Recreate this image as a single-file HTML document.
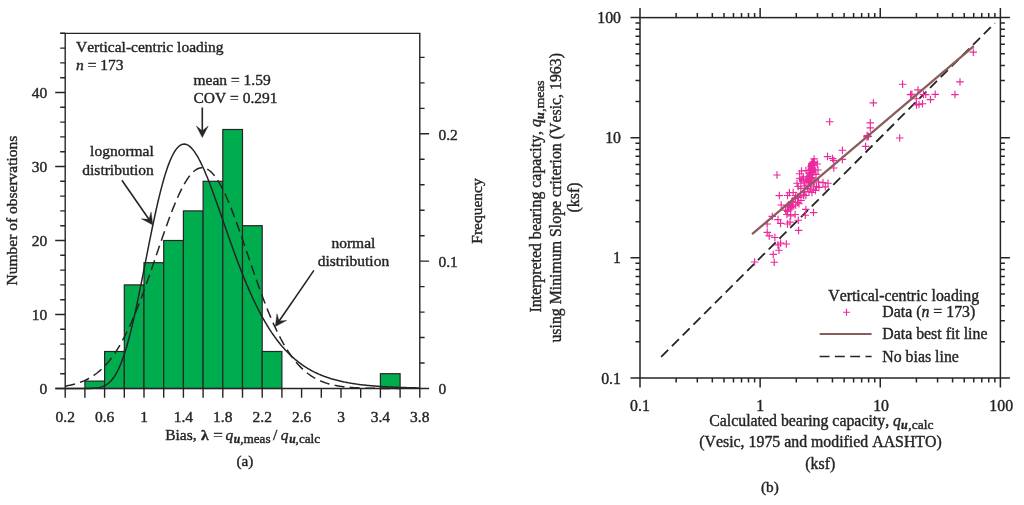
<!DOCTYPE html>
<html lang="en"><head><meta charset="utf-8"><title>Bias histogram and bearing capacity scatter</title>
<style>
html,body{margin:0;padding:0;background:#fff;}
body{width:1024px;height:505px;overflow:hidden;}
svg{display:block;font-family:"Liberation Serif","DejaVu Serif",serif;fill:#282425;}
svg text{fill:#282425;stroke:#282425;stroke-width:0.4px;font-kerning:none;font-variant-ligatures:none;}
</style></head><body>
<svg width="1024" height="505" viewBox="0 0 1024 505">
<rect x="0" y="0" width="1024" height="505" fill="#fff" stroke="none"/>
<g>
<g fill="#00ad4e" stroke="#282425" stroke-width="1.2">
<rect x="84.90" y="381.10" width="19.70" height="7.40"/>
<rect x="104.60" y="351.50" width="19.70" height="37.00"/>
<rect x="124.30" y="284.90" width="19.70" height="103.60"/>
<rect x="144.00" y="262.70" width="19.70" height="125.80"/>
<rect x="163.70" y="240.50" width="19.70" height="148.00"/>
<rect x="183.40" y="210.90" width="19.70" height="177.60"/>
<rect x="203.10" y="181.30" width="19.70" height="207.20"/>
<rect x="222.80" y="129.50" width="19.70" height="259.00"/>
<rect x="242.50" y="225.70" width="19.70" height="162.80"/>
<rect x="262.20" y="351.50" width="19.70" height="37.00"/>
<rect x="380.40" y="373.70" width="19.70" height="14.80"/>
</g>
<path d="M65.20,388.50 L66.19,388.50 L67.17,388.50 L68.16,388.50 L69.14,388.50 L70.12,388.50 L71.11,388.50 L72.10,388.50 L73.08,388.50 L74.07,388.50 L75.05,388.50 L76.04,388.50 L77.02,388.50 L78.01,388.50 L78.99,388.50 L79.98,388.50 L80.96,388.50 L81.95,388.50 L82.93,388.49 L83.92,388.49 L84.90,388.49 L85.89,388.48 L86.87,388.47 L87.86,388.46 L88.84,388.44 L89.83,388.42 L90.81,388.39 L91.80,388.35 L92.78,388.30 L93.77,388.24 L94.75,388.16 L95.74,388.07 L96.72,387.95 L97.71,387.81 L98.69,387.64 L99.68,387.43 L100.66,387.18 L101.65,386.90 L102.63,386.56 L103.62,386.16 L104.60,385.71 L105.59,385.18 L106.57,384.59 L107.56,383.91 L108.54,383.14 L109.53,382.28 L110.51,381.32 L111.50,380.25 L112.48,379.07 L113.47,377.77 L114.45,376.34 L115.44,374.78 L116.42,373.09 L117.41,371.25 L118.39,369.27 L119.38,367.14 L120.36,364.86 L121.35,362.43 L122.33,359.83 L123.32,357.09 L124.30,354.18 L125.29,351.13 L126.27,347.91 L127.26,344.55 L128.24,341.03 L129.23,337.37 L130.21,333.57 L131.20,329.63 L132.18,325.56 L133.17,321.37 L134.15,317.06 L135.14,312.64 L136.12,308.12 L137.11,303.50 L138.09,298.80 L139.08,294.03 L140.06,289.19 L141.05,284.29 L142.03,279.35 L143.02,274.37 L144.00,269.37 L144.99,264.36 L145.97,259.34 L146.96,254.33 L147.94,249.34 L148.93,244.37 L149.91,239.44 L150.90,234.56 L151.88,229.74 L152.87,224.99 L153.85,220.31 L154.84,215.72 L155.82,211.22 L156.81,206.82 L157.79,202.53 L158.78,198.36 L159.76,194.32 L160.75,190.40 L161.73,186.62 L162.72,182.98 L163.70,179.49 L164.69,176.15 L165.67,172.96 L166.66,169.94 L167.64,167.07 L168.63,164.37 L169.61,161.84 L170.60,159.47 L171.58,157.28 L172.57,155.25 L173.55,153.40 L174.54,151.72 L175.52,150.21 L176.51,148.87 L177.49,147.69 L178.48,146.69 L179.46,145.86 L180.45,145.19 L181.43,144.68 L182.42,144.33 L183.40,144.13 L184.39,144.10 L185.37,144.21 L186.36,144.47 L187.34,144.88 L188.33,145.42 L189.31,146.10 L190.30,146.91 L191.28,147.86 L192.27,148.92 L193.25,150.11 L194.24,151.41 L195.22,152.82 L196.21,154.34 L197.19,155.97 L198.18,157.68 L199.16,159.50 L200.15,161.40 L201.13,163.39 L202.12,165.45 L203.10,167.59 L204.09,169.80 L205.07,172.08 L206.06,174.43 L207.04,176.83 L208.03,179.28 L209.01,181.78 L210.00,184.33 L210.98,186.93 L211.97,189.56 L212.95,192.22 L213.94,194.92 L214.92,197.64 L215.91,200.39 L216.89,203.16 L217.88,205.95 L218.86,208.75 L219.85,211.57 L220.83,214.39 L221.82,217.22 L222.80,220.05 L223.79,222.88 L224.77,225.71 L225.76,228.54 L226.74,231.35 L227.73,234.17 L228.71,236.97 L229.70,239.75 L230.68,242.53 L231.67,245.28 L232.65,248.02 L233.64,250.74 L234.62,253.44 L235.61,256.11 L236.59,258.77 L237.58,261.39 L238.56,263.99 L239.55,266.57 L240.53,269.11 L241.52,271.63 L242.50,274.12 L243.49,276.58 L244.47,279.00 L245.46,281.39 L246.44,283.75 L247.43,286.08 L248.41,288.38 L249.39,290.64 L250.38,292.86 L251.36,295.06 L252.35,297.21 L253.33,299.34 L254.32,301.42 L255.30,303.47 L256.29,305.49 L257.27,307.47 L258.26,309.42 L259.24,311.33 L260.23,313.21 L261.21,315.05 L262.20,316.86 L263.18,318.63 L264.17,320.37 L265.15,322.07 L266.14,323.74 L267.12,325.38 L268.11,326.98 L269.09,328.55 L270.08,330.08 L271.06,331.59 L272.05,333.06 L273.03,334.50 L274.02,335.91 L275.00,337.29 L275.99,338.64 L276.97,339.95 L277.96,341.24 L278.94,342.50 L279.93,343.73 L280.91,344.93 L281.90,346.11 L282.88,347.25 L283.87,348.37 L284.85,349.46 L285.84,350.53 L286.82,351.57 L287.81,352.59 L288.79,353.58 L289.78,354.54 L290.76,355.48 L291.75,356.40 L292.73,357.30 L293.72,358.17 L294.70,359.02 L295.69,359.85 L296.67,360.66 L297.66,361.45 L298.64,362.22 L299.63,362.97 L300.61,363.69 L301.60,364.40 L302.58,365.09 L303.57,365.77 L304.55,366.42 L305.54,367.06 L306.52,367.68 L307.51,368.28 L308.49,368.87 L309.48,369.44 L310.46,369.99 L311.45,370.54 L312.43,371.06 L313.42,371.57 L314.40,372.07 L315.39,372.55 L316.37,373.02 L317.36,373.48 L318.34,373.93 L319.33,374.36 L320.31,374.78 L321.30,375.19 L322.28,375.58 L323.27,375.97 L324.25,376.34 L325.24,376.71 L326.22,377.06 L327.21,377.40 L328.19,377.74 L329.18,378.06 L330.16,378.38 L331.15,378.68 L332.13,378.98 L333.12,379.27 L334.10,379.55 L335.09,379.82 L336.07,380.08 L337.06,380.34 L338.04,380.59 L339.03,380.83 L340.01,381.06 L341.00,381.29 L341.98,381.51 L342.97,381.72 L343.95,381.93 L344.94,382.13 L345.92,382.33 L346.91,382.52 L347.89,382.70 L348.88,382.88 L349.86,383.05 L350.85,383.22 L351.83,383.38 L352.82,383.54 L353.80,383.69 L354.79,383.84 L355.77,383.99 L356.76,384.13 L357.74,384.26 L358.73,384.39 L359.71,384.52 L360.70,384.65 L361.68,384.77 L362.67,384.88 L363.65,384.99 L364.64,385.10 L365.62,385.21 L366.61,385.31 L367.59,385.41 L368.58,385.51 L369.56,385.60 L370.55,385.69 L371.53,385.78 L372.52,385.86 L373.50,385.95 L374.49,386.03 L375.47,386.10 L376.46,386.18 L377.44,386.25 L378.43,386.32 L379.41,386.39 L380.40,386.46 L381.38,386.52 L382.37,386.58 L383.35,386.64 L384.34,386.70 L385.32,386.76 L386.31,386.81 L387.29,386.87 L388.28,386.92 L389.26,386.97 L390.25,387.02 L391.23,387.06 L392.22,387.11 L393.20,387.15 L394.19,387.19 L395.17,387.24 L396.16,387.28 L397.14,387.31 L398.13,387.35 L399.11,387.39 L400.10,387.42 L401.08,387.46 L402.07,387.49 L403.05,387.52 L404.04,387.55 L405.02,387.58 L406.01,387.61 L406.99,387.64 L407.98,387.67 L408.96,387.69 L409.95,387.72 L410.93,387.74 L411.92,387.77 L412.90,387.79 L413.89,387.81 L414.87,387.84 L415.86,387.86 L416.84,387.88 L417.83,387.90 L418.81,387.92 L419.80,387.93" fill="none" stroke="#282425" stroke-width="1.5"/>
<path d="M65.20,386.08 L66.19,385.92 L67.17,385.74 L68.16,385.56 L69.14,385.37 L70.12,385.17 L71.11,384.95 L72.10,384.73 L73.08,384.49 L74.07,384.24 L75.05,383.97 L76.04,383.69 L77.02,383.40 L78.01,383.09 L78.99,382.76 L79.98,382.41 L80.96,382.05 L81.95,381.67 L82.93,381.27 L83.92,380.86 L84.90,380.42 L85.89,379.96 L86.87,379.48 L87.86,378.97 L88.84,378.44 L89.83,377.89 L90.81,377.31 L91.80,376.71 L92.78,376.08 L93.77,375.42 L94.75,374.73 L95.74,374.02 L96.72,373.27 L97.71,372.50 L98.69,371.69 L99.68,370.85 L100.66,369.97 L101.65,369.06 L102.63,368.12 L103.62,367.14 L104.60,366.12 L105.59,365.07 L106.57,363.98 L107.56,362.85 L108.54,361.68 L109.53,360.47 L110.51,359.22 L111.50,357.92 L112.48,356.59 L113.47,355.21 L114.45,353.79 L115.44,352.32 L116.42,350.81 L117.41,349.26 L118.39,347.66 L119.38,346.02 L120.36,344.33 L121.35,342.59 L122.33,340.81 L123.32,338.98 L124.30,337.11 L125.29,335.19 L126.27,333.22 L127.26,331.21 L128.24,329.16 L129.23,327.05 L130.21,324.91 L131.20,322.72 L132.18,320.48 L133.17,318.21 L134.15,315.89 L135.14,313.53 L136.12,311.13 L137.11,308.68 L138.09,306.20 L139.08,303.69 L140.06,301.13 L141.05,298.55 L142.03,295.92 L143.02,293.27 L144.00,290.59 L144.99,287.87 L145.97,285.13 L146.96,282.37 L147.94,279.58 L148.93,276.77 L149.91,273.95 L150.90,271.10 L151.88,268.24 L152.87,265.37 L153.85,262.49 L154.84,259.61 L155.82,256.72 L156.81,253.82 L157.79,250.93 L158.78,248.04 L159.76,245.16 L160.75,242.28 L161.73,239.42 L162.72,236.57 L163.70,233.74 L164.69,230.93 L165.67,228.15 L166.66,225.39 L167.64,222.67 L168.63,219.97 L169.61,217.31 L170.60,214.70 L171.58,212.12 L172.57,209.59 L173.55,207.11 L174.54,204.67 L175.52,202.30 L176.51,199.98 L177.49,197.72 L178.48,195.52 L179.46,193.39 L180.45,191.33 L181.43,189.34 L182.42,187.43 L183.40,185.59 L184.39,183.83 L185.37,182.15 L186.36,180.55 L187.34,179.04 L188.33,177.61 L189.31,176.28 L190.30,175.04 L191.28,173.89 L192.27,172.83 L193.25,171.87 L194.24,171.01 L195.22,170.25 L196.21,169.58 L197.19,169.02 L198.18,168.56 L199.16,168.20 L200.15,167.94 L201.13,167.79 L202.12,167.74 L203.10,167.79 L204.09,167.94 L205.07,168.20 L206.06,168.56 L207.04,169.02 L208.03,169.58 L209.01,170.25 L210.00,171.01 L210.98,171.87 L211.97,172.83 L212.95,173.89 L213.94,175.04 L214.92,176.28 L215.91,177.61 L216.89,179.04 L217.88,180.55 L218.86,182.15 L219.85,183.83 L220.83,185.59 L221.82,187.43 L222.80,189.34 L223.79,191.33 L224.77,193.39 L225.76,195.52 L226.74,197.72 L227.73,199.98 L228.71,202.30 L229.70,204.67 L230.68,207.11 L231.67,209.59 L232.65,212.12 L233.64,214.70 L234.62,217.31 L235.61,219.97 L236.59,222.67 L237.58,225.39 L238.56,228.15 L239.55,230.93 L240.53,233.74 L241.52,236.57 L242.50,239.42 L243.49,242.28 L244.47,245.16 L245.46,248.04 L246.44,250.93 L247.43,253.82 L248.41,256.72 L249.39,259.61 L250.38,262.49 L251.36,265.37 L252.35,268.24 L253.33,271.10 L254.32,273.95 L255.30,276.77 L256.29,279.58 L257.27,282.37 L258.26,285.13 L259.24,287.87 L260.23,290.59 L261.21,293.27 L262.20,295.92 L263.18,298.55 L264.17,301.13 L265.15,303.69 L266.14,306.20 L267.12,308.68 L268.11,311.13 L269.09,313.53 L270.08,315.89 L271.06,318.21 L272.05,320.48 L273.03,322.72 L274.02,324.91 L275.00,327.05 L275.99,329.16 L276.97,331.21 L277.96,333.22 L278.94,335.19 L279.93,337.11 L280.91,338.98 L281.90,340.81 L282.88,342.59 L283.87,344.33 L284.85,346.02 L285.84,347.66 L286.82,349.26 L287.81,350.81 L288.79,352.32 L289.78,353.79 L290.76,355.21 L291.75,356.59 L292.73,357.92 L293.72,359.22 L294.70,360.47 L295.69,361.68 L296.67,362.85 L297.66,363.98 L298.64,365.07 L299.63,366.12 L300.61,367.14 L301.60,368.12 L302.58,369.06 L303.57,369.97 L304.55,370.85 L305.54,371.69 L306.52,372.50 L307.51,373.27 L308.49,374.02 L309.48,374.73 L310.46,375.42 L311.45,376.08 L312.43,376.71 L313.42,377.31 L314.40,377.89 L315.39,378.44 L316.37,378.97 L317.36,379.48 L318.34,379.96 L319.33,380.42 L320.31,380.86 L321.30,381.27 L322.28,381.67 L323.27,382.05 L324.25,382.41 L325.24,382.76 L326.22,383.09 L327.21,383.40 L328.19,383.69 L329.18,383.97 L330.16,384.24 L331.15,384.49 L332.13,384.73 L333.12,384.95 L334.10,385.17 L335.09,385.37 L336.07,385.56 L337.06,385.74 L338.04,385.92 L339.03,386.08 L340.01,386.23 L341.00,386.37 L341.98,386.51 L342.97,386.64 L343.95,386.76 L344.94,386.87 L345.92,386.98 L346.91,387.08 L347.89,387.18 L348.88,387.26 L349.86,387.35 L350.85,387.43 L351.83,387.50 L352.82,387.57 L353.80,387.63 L354.79,387.69 L355.77,387.75 L356.76,387.80 L357.74,387.85 L358.73,387.90 L359.71,387.94 L360.70,387.98 L361.68,388.02 L362.67,388.05 L363.65,388.09 L364.64,388.12 L365.62,388.15 L366.61,388.17 L367.59,388.20 L368.58,388.22 L369.56,388.24 L370.55,388.26 L371.53,388.28 L372.52,388.30 L373.50,388.31 L374.49,388.33 L375.47,388.34 L376.46,388.35 L377.44,388.37 L378.43,388.38 L379.41,388.39 L380.40,388.40 L381.38,388.40 L382.37,388.41 L383.35,388.42 L384.34,388.43 L385.32,388.43 L386.31,388.44 L387.29,388.44 L388.28,388.45 L389.26,388.45 L390.25,388.46 L391.23,388.46 L392.22,388.46 L393.20,388.47 L394.19,388.47 L395.17,388.47 L396.16,388.47 L397.14,388.48 L398.13,388.48 L399.11,388.48 L400.10,388.48" fill="none" stroke="#282425" stroke-width="1.5" stroke-dasharray="10 5.3"/>
<g stroke="#282425" stroke-width="1.4" fill="none">
<path d="M60.50 33.40 H419.80 V388.50 H55.50"/>
<path d="M65.20 33.40 V388.50"/>
<path d="M65.20 388.50V397.70M84.90 388.50V397.70M104.60 388.50V397.70M124.30 388.50V397.70M144.00 388.50V397.70M163.70 388.50V397.70M183.40 388.50V397.70M203.10 388.50V397.70M222.80 388.50V397.70M242.50 388.50V397.70M262.20 388.50V397.70M281.90 388.50V397.70M301.60 388.50V397.70M321.30 388.50V397.70M341.00 388.50V397.70M360.70 388.50V397.70M380.40 388.50V397.70M400.10 388.50V397.70M419.80 388.50V397.70"/>
<path d="M65.20 388.50H55.20M65.20 373.70H60.20M65.20 358.90H60.20M65.20 344.10H60.20M65.20 329.30H60.20M65.20 314.50H55.20M65.20 299.70H60.20M65.20 284.90H60.20M65.20 270.10H60.20M65.20 255.30H60.20M65.20 240.50H55.20M65.20 225.70H60.20M65.20 210.90H60.20M65.20 196.10H60.20M65.20 181.30H60.20M65.20 166.50H55.20M65.20 151.70H60.20M65.20 136.90H60.20M65.20 122.10H60.20M65.20 107.30H60.20M65.20 92.50H55.20M65.20 77.70H60.20M65.20 62.90H60.20M65.20 48.10H60.20M65.20 33.30H60.20"/>
<path d="M419.80 388.50H429.10M419.80 363.03H424.60M419.80 337.56H424.60M419.80 312.09H424.60M419.80 286.62H424.60M419.80 261.15H429.10M419.80 235.68H424.60M419.80 210.21H424.60M419.80 184.74H424.60M419.80 159.27H424.60M419.80 133.80H429.10M419.80 108.33H424.60M419.80 82.86H424.60M419.80 57.39H424.60"/>
</g>
<text x="47.20" y="393.60" text-anchor="end" font-size="15.50" >0</text>
<text x="47.20" y="319.60" text-anchor="end" font-size="15.50" >10</text>
<text x="47.20" y="245.60" text-anchor="end" font-size="15.50" >20</text>
<text x="47.20" y="171.60" text-anchor="end" font-size="15.50" >30</text>
<text x="47.20" y="97.60" text-anchor="end" font-size="15.50" >40</text>
<text x="65.20" y="421.90" text-anchor="middle" font-size="15.50" >0.2</text>
<text x="104.60" y="421.90" text-anchor="middle" font-size="15.50" >0.6</text>
<text x="144.00" y="421.90" text-anchor="middle" font-size="15.50" >1</text>
<text x="183.40" y="421.90" text-anchor="middle" font-size="15.50" >1.4</text>
<text x="222.80" y="421.90" text-anchor="middle" font-size="15.50" >1.8</text>
<text x="262.20" y="421.90" text-anchor="middle" font-size="15.50" >2.2</text>
<text x="301.60" y="421.90" text-anchor="middle" font-size="15.50" >2.6</text>
<text x="341.00" y="421.90" text-anchor="middle" font-size="15.50" >3</text>
<text x="380.40" y="421.90" text-anchor="middle" font-size="15.50" >3.4</text>
<text x="419.80" y="421.90" text-anchor="middle" font-size="15.50" >3.8</text>
<text x="438.40" y="394.20" text-anchor="start" font-size="15.50" >0</text>
<text x="438.40" y="266.85" text-anchor="start" font-size="15.50" >0.1</text>
<text x="438.40" y="139.50" text-anchor="start" font-size="15.50" >0.2</text>
<text x="0.00" y="0.00" text-anchor="middle" font-size="15.50" transform="translate(17.3 210.5) rotate(-90)">Number of observations</text>
<text x="0.00" y="0.00" text-anchor="middle" font-size="15.50" transform="translate(481.8 211) rotate(-90)">Frequency</text>
<text y="440.2" font-size="15.50"><tspan x="165.2">Bias,</tspan><tspan x="201.0" font-weight="bold">λ</tspan><tspan x="213.2" textLength="9.6" lengthAdjust="spacingAndGlyphs">=</tspan><tspan x="225.6" font-style="italic">q</tspan><tspan x="233.8" dy="2.8" font-size="11.6" font-style="italic" font-weight="bold">u</tspan><tspan x="240.2" font-size="13.2">,meas</tspan><tspan x="273.0" dy="-2.8">/</tspan><tspan x="280.8" font-style="italic">q</tspan><tspan x="289.2" dy="2.8" font-size="11.6" font-style="italic" font-weight="bold">u</tspan><tspan x="295.6" font-size="13.2">,calc</tspan></text>
<text x="245.00" y="466.00" text-anchor="middle" font-size="15.20" >(a)</text>
<text x="76.00" y="51.50" text-anchor="start" font-size="15.50" >Vertical-centric loading</text>
<text x="76.00" y="69.70" text-anchor="start" font-size="15.50" ><tspan font-style="italic">n</tspan> = 173</text>
<text x="193.50" y="84.60" text-anchor="start" font-size="15.50" >mean = 1.59</text>
<text x="193.50" y="103.10" text-anchor="start" font-size="15.50" >COV = 0.291</text>
<text x="153.80" y="156.30" text-anchor="end" font-size="15.50" >lognormal</text>
<text x="153.80" y="174.60" text-anchor="end" font-size="15.50" >distribution</text>
<text x="353.40" y="248.00" text-anchor="middle" font-size="15.50" >normal</text>
<text x="353.40" y="266.30" text-anchor="middle" font-size="15.50" >distribution</text>
<path d="M202.30 107.50L202.30 130.80" fill="none" stroke="#282425" stroke-width="1.6"/>
<path d="M202.30 137.60L196.40 126.10L202.30 130.80L208.20 126.10Z" fill="#282425" stroke="#282425" stroke-width="0.4" stroke-linejoin="miter"/>
<path d="M121.90 180.30L148.93 219.31" fill="none" stroke="#282425" stroke-width="1.6"/>
<path d="M152.80 224.90L141.40 218.81L148.93 219.31L151.10 212.09Z" fill="#282425" stroke="#282425" stroke-width="0.4" stroke-linejoin="miter"/>
<path d="M313.90 270.40L279.15 320.99" fill="none" stroke="#282425" stroke-width="1.6"/>
<path d="M275.30 326.60L276.95 313.78L279.15 320.99L286.67 320.46Z" fill="#282425" stroke="#282425" stroke-width="0.4" stroke-linejoin="miter"/>
<g stroke="#282425" stroke-width="1.5" fill="none">
<rect x="640.00" y="17.61" width="360.39" height="360.39"/>
<path d="M640.00 378.00V387.50M640.00 17.61V8.11M640.00 378.00H630.50M1000.39 378.00H1009.89M676.16 378.00V382.50M676.16 17.61V13.11M640.00 341.84H635.50M1000.39 341.84H1004.89M697.32 378.00V382.50M697.32 17.61V13.11M640.00 320.68H635.50M1000.39 320.68H1004.89M712.33 378.00V382.50M712.33 17.61V13.11M640.00 305.67H635.50M1000.39 305.67H1004.89M723.97 378.00V382.50M723.97 17.61V13.11M640.00 294.03H635.50M1000.39 294.03H1004.89M733.48 378.00V382.50M733.48 17.61V13.11M640.00 284.52H635.50M1000.39 284.52H1004.89M741.52 378.00V382.50M741.52 17.61V13.11M640.00 276.48H635.50M1000.39 276.48H1004.89M748.49 378.00V382.50M748.49 17.61V13.11M640.00 269.51H635.50M1000.39 269.51H1004.89M754.63 378.00V382.50M754.63 17.61V13.11M640.00 263.37H635.50M1000.39 263.37H1004.89M760.13 378.00V387.50M760.13 17.61V8.11M640.00 257.87H630.50M1000.39 257.87H1009.89M796.29 378.00V382.50M796.29 17.61V13.11M640.00 221.71H635.50M1000.39 221.71H1004.89M817.45 378.00V382.50M817.45 17.61V13.11M640.00 200.55H635.50M1000.39 200.55H1004.89M832.46 378.00V382.50M832.46 17.61V13.11M640.00 185.54H635.50M1000.39 185.54H1004.89M844.10 378.00V382.50M844.10 17.61V13.11M640.00 173.90H635.50M1000.39 173.90H1004.89M853.61 378.00V382.50M853.61 17.61V13.11M640.00 164.39H635.50M1000.39 164.39H1004.89M861.65 378.00V382.50M861.65 17.61V13.11M640.00 156.35H635.50M1000.39 156.35H1004.89M868.62 378.00V382.50M868.62 17.61V13.11M640.00 149.38H635.50M1000.39 149.38H1004.89M874.76 378.00V382.50M874.76 17.61V13.11M640.00 143.24H635.50M1000.39 143.24H1004.89M880.26 378.00V387.50M880.26 17.61V8.11M640.00 137.74H630.50M1000.39 137.74H1009.89M916.42 378.00V382.50M916.42 17.61V13.11M640.00 101.58H635.50M1000.39 101.58H1004.89M937.58 378.00V382.50M937.58 17.61V13.11M640.00 80.42H635.50M1000.39 80.42H1004.89M952.59 378.00V382.50M952.59 17.61V13.11M640.00 65.41H635.50M1000.39 65.41H1004.89M964.23 378.00V382.50M964.23 17.61V13.11M640.00 53.77H635.50M1000.39 53.77H1004.89M973.74 378.00V382.50M973.74 17.61V13.11M640.00 44.26H635.50M1000.39 44.26H1004.89M981.78 378.00V382.50M981.78 17.61V13.11M640.00 36.22H635.50M1000.39 36.22H1004.89M988.75 378.00V382.50M988.75 17.61V13.11M640.00 29.25H635.50M1000.39 29.25H1004.89M994.89 378.00V382.50M994.89 17.61V13.11M640.00 23.11H635.50M1000.39 23.11H1004.89M1000.39 378.00V387.50M1000.39 17.61V8.11M640.00 17.61H630.50M1000.39 17.61H1009.89"/>
</g>
<path d="M661.15 356.85L994.89 23.11" stroke="#282425" stroke-width="1.8" stroke-dasharray="9.9 5.31" fill="none"/>
<path d="M773.2 175.0h7.5M777.0 171.2v7.5M810.4 158.9h7.5M814.1 155.2v7.5M823.8 156.6h7.5M827.5 152.8v7.5M828.8 158.5h7.5M832.5 154.8v7.5M830.0 160.4h7.5M833.8 156.7v7.5M830.0 168.0h7.5M833.8 164.2v7.5M838.6 150.2h7.5M842.4 146.4v7.5M838.6 159.4h7.5M842.4 155.7v7.5M861.9 146.3h7.5M865.6 142.6v7.5M863.5 135.6h7.5M867.2 131.8v7.5M813.5 164.0h7.5M817.3 160.2v7.5M814.2 170.0h7.5M818.0 166.2v7.5M795.9 173.7h7.5M799.6 169.9v7.5M795.9 178.2h7.5M799.6 174.4v7.5M793.2 183.2h7.5M797.0 179.4v7.5M797.0 183.2h7.5M800.8 179.4v7.5M799.6 176.9h7.5M803.4 173.2v7.5M802.2 170.6h7.5M806.0 166.8v7.5M812.2 174.4h7.5M816.0 170.7v7.5M811.0 180.7h7.5M814.8 176.9v7.5M814.9 182.0h7.5M818.6 178.2v7.5M819.2 182.6h7.5M823.0 178.8v7.5M824.2 183.2h7.5M828.0 179.4v7.5M821.5 186.8h7.5M825.3 183.1v7.5M812.8 186.4h7.5M816.5 182.7v7.5M806.8 189.0h7.5M810.5 185.2v7.5M802.2 185.8h7.5M806.0 182.1v7.5M797.0 188.4h7.5M800.8 184.7v7.5M789.5 192.5h7.5M793.2 188.8v7.5M785.6 192.7h7.5M789.4 188.9v7.5M775.5 195.6h7.5M779.3 191.8v7.5M783.8 195.5h7.5M787.5 191.8v7.5M792.0 195.5h7.5M795.8 191.8v7.5M799.6 194.9h7.5M803.4 191.2v7.5M802.1 195.5h7.5M805.9 191.8v7.5M809.8 189.2h7.5M813.5 185.4v7.5M777.5 205.0h7.5M781.2 201.2v7.5M789.5 202.5h7.5M793.2 198.8v7.5M792.0 205.0h7.5M795.8 201.2v7.5M795.2 203.7h7.5M799.0 199.9v7.5M788.2 206.3h7.5M792.0 202.6v7.5M781.9 210.1h7.5M785.6 206.3v7.5M783.1 214.5h7.5M786.9 210.8v7.5M787.0 215.8h7.5M790.7 212.1v7.5M791.4 214.5h7.5M795.1 210.8v7.5M802.1 209.4h7.5M805.9 205.7v7.5M801.5 215.2h7.5M805.3 211.4v7.5M809.8 212.6h7.5M813.5 208.8v7.5M768.5 216.4h7.5M772.3 212.7v7.5M774.2 219.6h7.5M778.0 215.8v7.5M776.9 223.4h7.5M780.6 219.7v7.5M783.8 224.0h7.5M787.5 220.2v7.5M786.2 222.1h7.5M790.0 218.3v7.5M794.5 220.2h7.5M798.3 216.4v7.5M763.5 224.0h7.5M767.2 220.2v7.5M794.9 230.4h7.5M798.6 226.7v7.5M763.5 232.3h7.5M767.2 228.6v7.5M765.5 235.9h7.5M769.2 232.2v7.5M771.1 237.5h7.5M774.9 233.8v7.5M776.9 243.0h7.5M780.6 239.2v7.5M782.5 244.0h7.5M786.3 240.2v7.5M750.9 262.0h7.5M754.6 258.2v7.5M770.5 262.2h7.5M774.2 258.4v7.5M769.5 254.4h7.5M773.2 250.7v7.5M775.2 250.2h7.5M779.0 246.4v7.5M774.2 244.9h7.5M778.0 241.2v7.5M969.5 52.1h7.5M973.3 48.4v7.5M956.2 81.9h7.5M960.0 78.2v7.5M951.2 94.6h7.5M955.0 90.8v7.5M898.9 84.2h7.5M902.6 80.5v7.5M914.2 89.9h7.5M918.0 86.2v7.5M906.9 94.6h7.5M910.6 90.8v7.5M919.8 94.6h7.5M923.5 90.8v7.5M922.0 94.6h7.5M925.8 90.8v7.5M931.5 94.3h7.5M935.2 90.5v7.5M926.8 99.6h7.5M930.5 95.8v7.5M912.5 98.7h7.5M916.3 95.0v7.5M869.6 102.9h7.5M873.4 99.2v7.5M866.5 122.8h7.5M870.3 119.0v7.5M866.5 127.9h7.5M870.3 124.2v7.5M896.0 138.0h7.5M899.7 134.2v7.5M912.8 105.0h7.5M916.5 101.2v7.5M918.8 103.7h7.5M922.5 100.0v7.5M915.2 104.4h7.5M919.0 100.7v7.5M826.0 121.7h7.5M829.7 118.0v7.5M864.6 136.4h7.5M868.4 132.7v7.5M908.1 94.2h7.5M911.9 90.5v7.5M863.2 136.9h7.5M867.0 133.2v7.5M809.5 161.9h7.5M813.3 158.1v7.5M810.7 162.1h7.5M814.4 158.4v7.5M809.5 162.7h7.5M813.3 158.9v7.5M808.6 163.0h7.5M812.3 159.2v7.5M809.7 163.7h7.5M813.4 159.9v7.5M808.2 163.5h7.5M811.9 159.7v7.5M808.1 164.5h7.5M811.8 160.7v7.5M809.6 163.9h7.5M813.3 160.2v7.5M810.2 165.4h7.5M814.0 161.7v7.5M809.3 165.4h7.5M813.1 161.6v7.5M807.9 165.1h7.5M811.7 161.3v7.5M808.8 165.5h7.5M812.6 161.7v7.5M807.8 166.1h7.5M811.6 162.3v7.5M807.3 166.7h7.5M811.1 163.0v7.5M808.3 167.6h7.5M812.1 163.8v7.5M808.4 167.7h7.5M812.2 164.0v7.5M808.3 168.1h7.5M812.1 164.4v7.5M808.1 168.1h7.5M811.9 164.3v7.5M809.4 169.3h7.5M813.2 165.5v7.5M809.0 169.3h7.5M812.7 165.6v7.5M807.5 169.1h7.5M811.3 165.4v7.5M807.4 169.3h7.5M811.1 165.6v7.5M808.5 170.1h7.5M812.3 166.4v7.5M808.6 170.5h7.5M812.4 166.7v7.5M808.8 171.4h7.5M812.6 167.7v7.5M806.3 171.0h7.5M810.0 167.3v7.5M808.6 171.7h7.5M812.3 168.0v7.5M808.6 172.0h7.5M812.4 168.3v7.5M806.2 172.7h7.5M810.0 168.9v7.5M808.0 172.6h7.5M811.7 168.9v7.5M806.1 173.1h7.5M809.8 169.3v7.5M808.3 174.0h7.5M812.0 170.2v7.5M806.0 173.8h7.5M809.7 170.0v7.5M805.9 173.9h7.5M809.6 170.2v7.5M807.6 174.4h7.5M811.3 170.7v7.5M806.9 175.2h7.5M810.6 171.4v7.5M805.8 175.9h7.5M809.6 172.1v7.5M805.6 176.2h7.5M809.4 172.4v7.5M805.5 176.3h7.5M809.2 172.5v7.5M805.7 176.5h7.5M809.4 172.7v7.5M807.5 177.5h7.5M811.3 173.7v7.5M805.7 178.0h7.5M809.5 174.2v7.5M805.4 177.8h7.5M809.1 174.0v7.5M807.0 178.5h7.5M810.7 174.7v7.5M804.9 179.3h7.5M808.7 175.5v7.5M805.2 178.8h7.5M808.9 175.0v7.5M806.5 179.2h7.5M810.3 175.5v7.5M805.2 179.3h7.5M809.0 175.6v7.5M804.6 180.3h7.5M808.3 176.5v7.5M804.9 180.7h7.5M808.6 177.0v7.5M805.1 180.9h7.5M808.9 177.2v7.5M806.6 181.3h7.5M810.3 177.6v7.5M805.5 182.2h7.5M809.3 178.4v7.5M804.4 181.7h7.5M808.2 178.0v7.5M806.2 182.9h7.5M810.0 179.1v7.5M797.8 171.0h7.5M801.5 167.2v7.5M800.0 181.0h7.5M803.8 177.2v7.5M794.5 186.5h7.5M798.2 182.8v7.5M800.8 186.0h7.5M804.5 182.2v7.5M798.2 179.0h7.5M802.0 175.2v7.5M807.2 185.0h7.5M811.0 181.2v7.5M809.8 187.0h7.5M813.5 183.2v7.5M811.8 190.5h7.5M815.5 186.8v7.5M805.2 191.5h7.5M809.0 187.8v7.5M815.2 187.5h7.5M819.0 183.8v7.5M808.2 192.5h7.5M812.0 188.8v7.5M803.8 188.5h7.5M807.5 184.8v7.5M788.0 201.9h7.5M791.7 198.2v7.5M797.3 200.5h7.5M801.0 196.7v7.5M787.0 208.8h7.5M790.7 205.1v7.5M800.0 195.6h7.5M803.8 191.9v7.5M791.3 198.6h7.5M795.0 194.9v7.5M784.0 211.3h7.5M787.7 207.6v7.5M787.8 206.2h7.5M791.5 202.5v7.5M788.1 206.9h7.5M791.9 203.1v7.5M794.6 197.5h7.5M798.3 193.7v7.5M786.6 207.3h7.5M790.3 203.5v7.5M784.6 205.0h7.5M788.3 201.2v7.5M793.9 202.5h7.5M797.6 198.8v7.5M794.9 197.1h7.5M798.7 193.4v7.5M800.7 191.9h7.5M804.4 188.1v7.5M783.6 206.1h7.5M787.3 202.4v7.5M791.7 197.9h7.5M795.5 194.2v7.5M786.6 204.5h7.5M790.3 200.7v7.5M794.1 196.6h7.5M797.9 192.8v7.5" stroke="#ec2a9c" stroke-width="1.15" fill="none"/>
<path d="M752.00 234.20L973.80 46.20" stroke="#8a5d5c" stroke-width="2.3" fill="none"/>
<text x="621.00" y="383.60" text-anchor="end" font-size="15.85" >0.1</text>
<text x="640.00" y="410.60" text-anchor="middle" font-size="15.85" >0.1</text>
<text x="621.00" y="263.47" text-anchor="end" font-size="15.85" >1</text>
<text x="760.13" y="410.60" text-anchor="middle" font-size="15.85" >1</text>
<text x="621.00" y="143.34" text-anchor="end" font-size="15.85" >10</text>
<text x="881.06" y="410.60" text-anchor="middle" font-size="15.85" >10</text>
<text x="621.00" y="23.21" text-anchor="end" font-size="15.85" >100</text>
<text x="1001.19" y="410.60" text-anchor="middle" font-size="15.85" >100</text>
<text y="426.0" font-size="15.85"><tspan x="709.2">Calculated bearing capacity,</tspan><tspan font-style="italic" dx="4">q</tspan><tspan dy="2.9" font-size="12" font-style="italic" font-weight="bold">u</tspan><tspan font-size="13.5" dx="0.6">,calc</tspan></text>
<text x="820.50" y="446.90" text-anchor="middle" font-size="15.85" >(Vesic, 1975 and modified AASHTO)</text>
<text x="820.30" y="468.60" text-anchor="middle" font-size="15.85" >(ksf)</text>
<text x="769.90" y="492.20" text-anchor="middle" font-size="15.30" >(b)</text>
<text transform="translate(540.9 312.6) rotate(-90)" font-size="15.85"><tspan x="0" y="0">Interpreted bearing capacity,</tspan><tspan font-style="italic" dx="4">q</tspan><tspan dy="2.9" font-size="12" font-style="italic" font-weight="bold">u</tspan><tspan font-size="13.5" dx="0.6">,meas</tspan></text>
<text x="0.00" y="0.00" text-anchor="middle" font-size="15.85" transform="translate(560.7 197.8) rotate(-90)">using Minimum Slope criterion (Vesic, 1963)</text>
<text x="0.00" y="0.00" text-anchor="middle" font-size="15.85" transform="translate(578.6 197.5) rotate(-90)">(ksf)</text>
<text x="828.20" y="300.70" text-anchor="start" font-size="15.85" >Vertical-centric loading</text>
<path d="M843 312.2h7M846.5 308.7v7" stroke="#ec2a9c" stroke-width="1.15" fill="none"/>
<text x="882.30" y="317.30" text-anchor="start" font-size="15.85" >Data (<tspan font-style="italic">n</tspan> = 173)</text>
<path d="M819.6 334H871.6" stroke="#8a5d5c" stroke-width="2.2" fill="none"/>
<text x="882.30" y="339.30" text-anchor="start" font-size="15.85" >Data best fit line</text>
<path d="M819.6 356.5H871.6" stroke="#282425" stroke-width="1.6" stroke-dasharray="9.9 5.4" fill="none"/>
<text x="882.30" y="362.00" text-anchor="start" font-size="15.85" >No bias line</text>
</g>
</svg>
</body></html>
